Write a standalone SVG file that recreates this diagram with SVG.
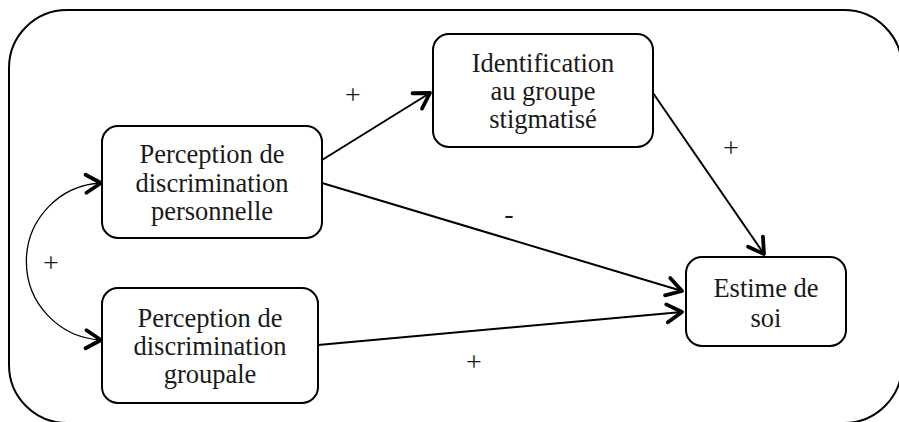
<svg xmlns="http://www.w3.org/2000/svg" width="899" height="422" viewBox="0 0 899 422">
<defs>
<marker id="ah" viewBox="-18 -12 20 24" refX="0" refY="0" markerWidth="20" markerHeight="24" markerUnits="userSpaceOnUse" orient="auto-start-reverse" overflow="visible">
<path d="M-15,-9 L0,0 L-15,9" fill="none" stroke="#000" stroke-width="3.8" stroke-linecap="round" stroke-linejoin="round"/>
</marker>
<style>
.box{fill:#fff;stroke:#000;stroke-width:2}
.t{font-size:26.5px;fill:#1a1a1a;text-anchor:middle}
.lbl{font-size:28px;fill:#1a1a1a;text-anchor:middle}
.e{fill:none;stroke:#000;stroke-width:2;marker-end:url(#ah)}
</style>
</defs>
<rect x="0" y="0" width="899" height="422" fill="#fff"/>
<rect x="9" y="10" width="893" height="413" rx="58" ry="58" fill="none" stroke="#000" stroke-width="2"/>
<g id="connectors">
<line class="e" x1="322" y1="160" x2="430" y2="93"/>
<line class="e" x1="322" y1="183" x2="682" y2="291"/>
<line class="e" x1="318" y1="345" x2="682" y2="312"/>
<line class="e" x1="653" y1="93" x2="764" y2="254"/>
<path d="M101,183 A78.6,78.6 0 0 0 101,340" fill="none" stroke="#000" stroke-width="1.3" marker-start="url(#ah)" marker-end="url(#ah)"/>
</g>
<g font-family="'Liberation Serif', 'Times New Roman', 'DejaVu Serif', serif">
<g id="labels">
<text class="lbl" x="353" y="104">+</text>
<text class="lbl" x="509" y="223">-</text>
<text class="lbl" x="731" y="157">+</text>
<text class="lbl" x="51" y="272">+</text>
<text class="lbl" x="474" y="371">+</text>
</g>
<g id="node-personnelle">
<rect class="box" x="102" y="126" width="220" height="112" rx="16"/>
<text class="t" x="212" y="163">Perception de</text>
<text class="t" x="212" y="192">discrimination</text>
<text class="t" x="212" y="220">personnelle</text>
</g>
<g id="node-groupale">
<rect class="box" x="102" y="288" width="216" height="115" rx="16"/>
<text class="t" x="210" y="327">Perception de</text>
<text class="t" x="210" y="355">discrimination</text>
<text class="t" x="210" y="383">groupale</text>
</g>
<g id="node-identification">
<rect class="box" x="433" y="34" width="220" height="113" rx="16"/>
<text class="t" x="543" y="72">Identification</text>
<text class="t" x="543" y="100">au groupe</text>
<text class="t" x="543" y="128">stigmatisé</text>
</g>
<g id="node-estime">
<rect class="box" x="686" y="257" width="160" height="89" rx="16"/>
<text class="t" x="766" y="297">Estime de</text>
<text class="t" x="766" y="327">soi</text>
</g>
</g>
</svg>
